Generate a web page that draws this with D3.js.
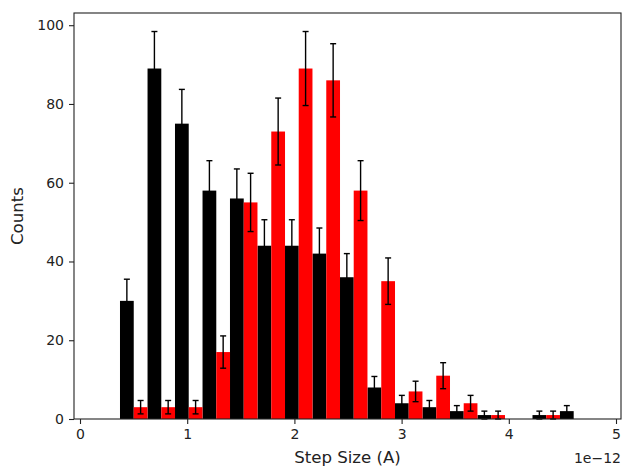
<!DOCTYPE html>
<html>
<head>
<meta charset="utf-8">
<script src="https://cdn.jsdelivr.net/npm/d3@7"></script>
<style>
  body { margin: 0; background: #fff; }
  text { font-family: "DejaVu Sans", sans-serif; fill: #222; }
</style>
</head>
<body>
<div id="viz"></div>
<script>
// bin left edges (units of 1e-12 A)
const binLeft = [0.373, 0.630, 0.886, 1.143, 1.399, 1.656, 1.912, 2.169, 2.425,
  2.682, 2.938, 3.195, 3.451, 3.708, 3.964, 4.221, 4.477];
const binWidth = 0.2565;

// counts
const blackCounts = [30, 89, 75, 58, 56, 44, 44, 42, 36, 8, 4, 3, 2, 1, 0, 1, 2];
const redCounts = [3, 3, 3, 17, 55, 73, 89, 86, 58, 35, 7, 11, 4, 1, 0, 1, 0];

// error bars (half length)
const blackErr = [5.5, 9.4, 8.7, 7.6, 7.5, 6.6, 6.6, 6.5, 6.0, 2.8, 2.0, 1.7, 1.4, 1.0, 0, 1.0, 1.4];
const redErr = [1.7, 1.7, 1.7, 4.1, 7.4, 8.5, 9.4, 9.3, 7.6, 5.9, 2.6, 3.3, 2.0, 1.0, 0, 1.0, 0];

const xTicks = [0, 1, 2, 3, 4, 5];
const yTicks = [0, 20, 40, 60, 80, 100];

const W = 622, H = 468;
const mLeft = 74, mRight = 621, mTop = 13, mBottom = 419;

let svg = d3
  .select('#viz')
  .append('svg')
  .attr('width', W)
  .attr('height', H);

let x = d3.scaleLinear().domain([-0.056, 5.0466]).range([mLeft, mRight]);
let y = d3.scaleLinear().domain([0, 103.1]).range([mBottom, mTop]);

const half = binWidth / 2;

let series = [
  { counts: blackCounts, err: blackErr, color: '#000000', off: 0 },
  { counts: redCounts, err: redErr, color: '#ff0000', off: half }
];

series.forEach(function (s) {
  let g = svg.append('g');
  g.selectAll('rect')
    .data(s.counts)
    .enter()
    .append('rect')
    .attr('x', (d, i) => x(binLeft[i] + s.off))
    .attr('width', (d, i) => x(binLeft[i] + s.off + half) - x(binLeft[i] + s.off))
    .attr('y', d => y(d))
    .attr('height', d => y(0) - y(d))
    .attr('fill', s.color);
});

// error bars on top
series.forEach(function (s) {
  let g = svg.append('g').attr('stroke', '#000').attr('stroke-width', 1.4);
  s.counts.forEach(function (d, i) {
    if (d <= 0) return;
    let cx = x(binLeft[i] + s.off + half / 2);
    let y1 = y(d - s.err[i]), y2 = y(d + s.err[i]);
    g.append('line').attr('x1', cx).attr('x2', cx).attr('y1', y1).attr('y2', y2);
    g.append('line').attr('x1', cx - 3).attr('x2', cx + 3).attr('y1', y1).attr('y2', y1);
    g.append('line').attr('x1', cx - 3).attr('x2', cx + 3).attr('y1', y2).attr('y2', y2);
  });
});

// axes
let xAxis = d3.axisBottom(x).tickValues(xTicks).tickSize(5).tickPadding(5).tickFormat(d3.format('d'));
let yAxis = d3.axisLeft(y).tickValues(yTicks).tickSize(5).tickPadding(5).tickFormat(d3.format('d'));

let gx = svg.append('g').attr('transform', `translate(0,${mBottom})`).call(xAxis);
let gy = svg.append('g').attr('transform', `translate(${mLeft},0)`).call(yAxis);

[gx, gy].forEach(function (g) {
  g.select('.domain').remove();
  g.selectAll('line').attr('stroke', '#222').attr('stroke-width', 1.1);
  g.selectAll('text').style('font-size', '14px').attr('fill', '#222');
});

// frame
svg.append('rect')
  .attr('x', mLeft)
  .attr('y', mTop)
  .attr('width', mRight - mLeft)
  .attr('height', mBottom - mTop)
  .attr('fill', 'none')
  .attr('stroke', '#222')
  .attr('stroke-width', 1.1);

// labels
svg.append('text')
  .attr('x', (mLeft + mRight) / 2)
  .attr('y', 463)
  .attr('text-anchor', 'middle')
  .style('font-size', '16.6px')
  .text('Step Size (A)');

svg.append('text')
  .attr('transform', `translate(23,${(mTop + mBottom) / 2}) rotate(-90)`)
  .attr('text-anchor', 'middle')
  .style('font-size', '16.6px')
  .text('Counts');

svg.append('text')
  .attr('x', mRight)
  .attr('y', 463)
  .attr('text-anchor', 'end')
  .style('font-size', '14px')
  .text('1e\u221212');
</script>
</body>
</html>
